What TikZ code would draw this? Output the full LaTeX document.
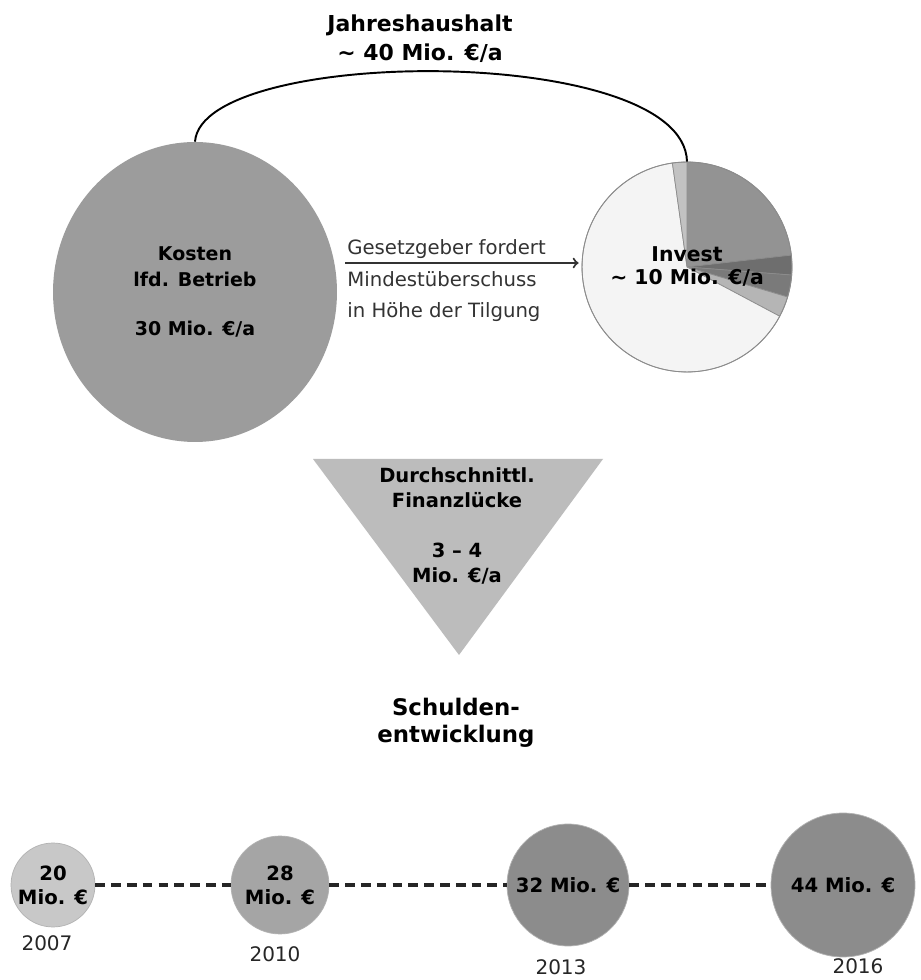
\documentclass[tikz,border=0pt]{standalone}
\usepackage{fontspec}
\setmainfont{DejaVu Sans}
\usetikzlibrary{shapes.geometric,positioning}

\definecolor{kostengray}{HTML}{9C9C9C}
\definecolor{gapgray}{HTML}{BCBCBC}
\definecolor{pieA}{HTML}{939393}
\definecolor{pieB}{HTML}{6E6E6E}
\definecolor{pieC}{HTML}{7A7A7A}
\definecolor{pieD}{HTML}{B5B5B5}
\definecolor{pieE}{HTML}{F4F4F4}
\definecolor{pieF}{HTML}{C2C2C2}
\definecolor{debtA}{HTML}{C8C8C8}
\definecolor{debtB}{HTML}{A5A5A5}
\definecolor{debtC}{HTML}{8C8C8C}

\begin{document}
\begin{tikzpicture}[x=0.02cm, y=0.02cm]
    % Define styles
    \tikzset{
        headline/.style={
            font=\fontsize{12.5}{16.5}\selectfont\bfseries,
            align=center,
            inner sep=0pt
        },
        boxtext/.style={
            font=\fontsize{10.9}{14.4}\selectfont\bfseries,
            align=center,
            inner sep=0pt
        },
        lawtext/.style={
            font=\fontsize{11.2}{15}\selectfont,
            text=black!80,
            inner sep=0pt
        },
        slice/.style={
            draw=black!45,
            line width=0.4pt
        },
        bubble/.style={
            circle,
            inner sep=0pt,
            draw=black!30,
            line width=0.4pt,
            font=\fontsize{11.2}{13.7}\selectfont\bfseries,
            align=center
        },
        year/.style={
            font=\fontsize{11.4}{13}\selectfont,
            text=black!85,
            inner sep=0pt
        },
        debtline/.style={
            line width=1.9pt,
            black!85,
            dash pattern=on 5.5pt off 3.5pt
        }
    }

    \useasboundingbox[fill=white] (0,0) rectangle (920,980);

    % Title
    \node[headline] (haushalt) at (420,941) {Jahreshaushalt\\\textasciitilde{} 40 Mio. €/a};

    % Running costs
    \node[ellipse, fill=kostengray, minimum width=5.68cm, minimum height=6cm,
          inner sep=0pt, boxtext, font=\fontsize{10.8}{14.8}\selectfont\bfseries]
        (kosten) at (195,688) {Kosten\\lfd. Betrieb\\[13.6pt]30 Mio. €/a};

    % Invest pie
    \coordinate (pie) at (687,713);
    \foreach \a/\b/\c in {6.5/90/pieA, -4.4/6.5/pieB, -16.6/-4.4/pieC,
                          -28/-16.6/pieD, 98/332/pieE, 90/98/pieF}
        \filldraw[slice, fill=\c] (pie) -- ++(\a:2.1cm)
            arc[start angle=\a, end angle=\b, radius=2.1cm] -- cycle;
    \node[circle, draw=black!45, line width=0.5pt, minimum size=4.2cm, inner sep=0pt,
          boxtext, font=\fontsize{11.6}{13.1}\selectfont\bfseries]
        (invest) at (pie) {Invest\\\textasciitilde{} 10 Mio. €/a};

    % Budget bracket
    \draw[line width=1.1pt] (kosten.north) .. controls (202,934) and (684,937) .. (invest.north);

    % Legal requirement
    \draw[->, line width=1.2pt, black!80] ([shift={(8,29)}]kosten.east) -- ([shift={(-3,4)}]invest.west);
    \node[lawtext, anchor=base west] (law1) at (347,725) {Gesetzgeber fordert};
    \node[lawtext, anchor=base west] (law2) at (347,693) {Mindestüberschuss};
    \node[lawtext, anchor=base west] (law3) at (347,662) {in Höhe der Tilgung};

    % Financing gap
    \coordinate (gapL) at (313,521);
    \coordinate (gapR) at (603,521);
    \coordinate (gapT) at (459,325);
    \fill[gapgray] (gapL) -- (gapR) -- (gapT) -- cycle;
    \node[boxtext, font=\fontsize{11.1}{14.2}\selectfont\bfseries] (gap) at (457,454)
        {Durchschnittl.\\Finanzlücke\\[14.2pt]3 – 4\\Mio. €/a};

    % Debt development
    \node[headline, font=\fontsize{13}{15.4}\selectfont\bfseries] (schulden) at (456,257)
        {Schulden-\\entwicklung};

    \node[bubble, fill=debtA, minimum size=1.68cm] (c2007) at (53,95) {20\\Mio. €};
    \node[bubble, fill=debtB, minimum size=1.96cm] (c2010) at (280,95) {28\\Mio. €};
    \node[bubble, fill=debtC, minimum size=2.44cm] (c2013) at (568,95) {32 Mio. €};
    \node[bubble, fill=debtC, minimum size=2.88cm] (c2016) at (843,95) {44 Mio. €};

    \draw[debtline] (c2007) -- (c2010);
    \draw[debtline] (c2010) -- (c2013);
    \draw[debtline] (c2013) -- (c2016);

    % Years
    \node[year, below=0.16cm of c2007, xshift=-0.12cm] (y2007) {2007};
    \node[year, below=0.24cm of c2010, xshift=-0.1cm] (y2010) {2010};
    \node[year, below=0.26cm of c2013, xshift=-0.14cm] (y2013) {2013};
    \node[year, below=0.02cm of c2016, xshift=0.3cm] (y2016) {2016};

\end{tikzpicture}
\end{document}
